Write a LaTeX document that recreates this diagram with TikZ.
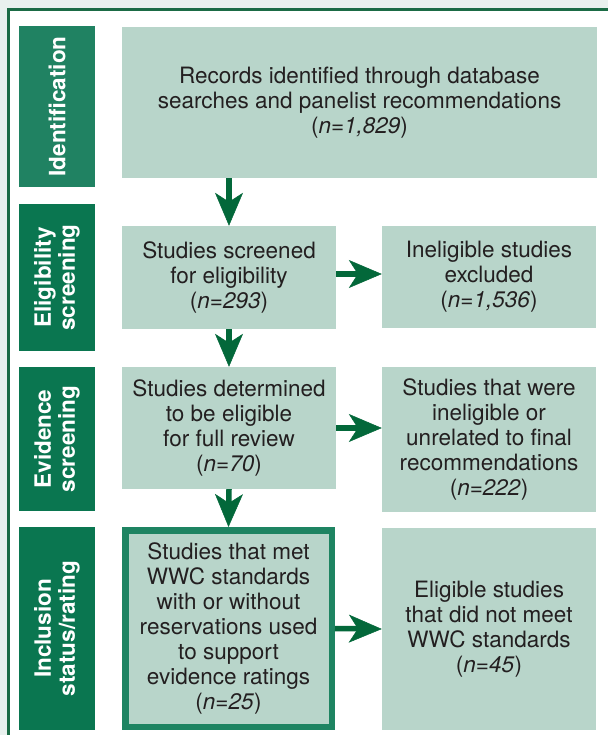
\documentclass[tikz,border=0pt]{standalone}
\usepackage{fontspec}
\setmainfont{TeX Gyre Heros}
\usetikzlibrary{arrows.meta}
\definecolor{pagebg}{HTML}{E9F1EE}
\definecolor{frameline}{HTML}{1B6B45}
\definecolor{phasegreen}{HTML}{0A7650}
\definecolor{phaselight}{HTML}{208262}
\definecolor{boxfill}{HTML}{B8D5CA}
\definecolor{arrowgreen}{HTML}{03683A}
\definecolor{inkgray}{HTML}{231F20}
\definecolor{keepline}{HTML}{1E8462}

\begin{document}
\begin{tikzpicture}[x=1pt,y=-1pt,
	phase/.style={fill=phasegreen,text=white,font=\fontsize{22.5}{24}\selectfont\bfseries,rotate=90,align=center,inner sep=0pt,minimum height=76pt},
	stage/.style={fill=boxfill,text=inkgray,font=\fontsize{22.5}{25}\selectfont,align=center,inner sep=0pt,minimum width=214pt},
	flow/.style={arrowgreen,line width=5.5pt,-{Stealth[length=33pt,width=28pt,inset=9pt,line width=0.5pt]}}]
	\useasboundingbox (0,0) rectangle (608,735);

	% Frame
	\fill[pagebg] (0,0) rectangle (608,735);
	\fill[white] (8.7,9.7) rectangle (608,735);
	\draw[frameline,line width=2.5pt] (8.7,735) -- (8.7,9.7) -- (608,9.7);

	% Phase labels
	\node[phase,fill=phaselight,minimum width=161pt] (idlab) at (57,106.5) {Identification};
	\node[phase,minimum width=147pt] (eliglab) at (57,277.5) {Eligibility\\screening};
	\node[phase,minimum width=144pt] (evidlab) at (57,439) {Evidence\\screening};
	\node[phase,minimum width=203pt] (incllab) at (57,628.5) {Inclusion\\status/rating};

	% Study counts
	\node[stage,minimum width=475pt,minimum height=151pt] (rec) at (359.5,102.5) {Records identified through database\\searches and panelist recommendations\\(\textit{n=1,829})};
	\node[stage,minimum height=103pt] (scr) at (229,277.5) {Studies screened\\for eligibility\\(\textit{n=293})};
	\node[stage,minimum height=102pt] (exc) at (489,277) {Ineligible studies\\excluded\\(\textit{n=1,536})};
	\node[stage,minimum height=122pt] (elig) at (229,428) {Studies determined\\to be eligible\\for full review\\(\textit{n=70})};
	\node[stage,minimum height=145pt] (unrel) at (489,439.5) {Studies that were\\ineligible or\\unrelated to final\\recommendations\\(\textit{n=222})};
	\node[stage,draw=keepline,line width=6.5pt,minimum width=206.5pt,minimum height=196.5pt] (met) at (228.5,628.5) {Studies that met\\WWC standards\\with or without\\reservations used\\to support\\evidence ratings\\(\textit{n=25})};
	\node[stage,minimum height=202pt] (notmet) at (489,629) {Eligible studies\\that did not meet\\WWC standards\\(\textit{n=45})};

	% Arrows
	\draw[flow] (scr.north |- rec.south) -- (scr.north);
	\draw[flow] (scr.south) -- (elig.north);
	\draw[flow] (elig.south) -- (met.north);
	\draw[flow] ([yshift=3.5pt]scr.east) -- ([yshift=3.5pt]scr.east -| exc.west);
	\draw[flow] (elig.east) -- (elig.east -| unrel.west);
	\draw[flow] (met.east) -- (notmet.west);
\end{tikzpicture}
\end{document}
